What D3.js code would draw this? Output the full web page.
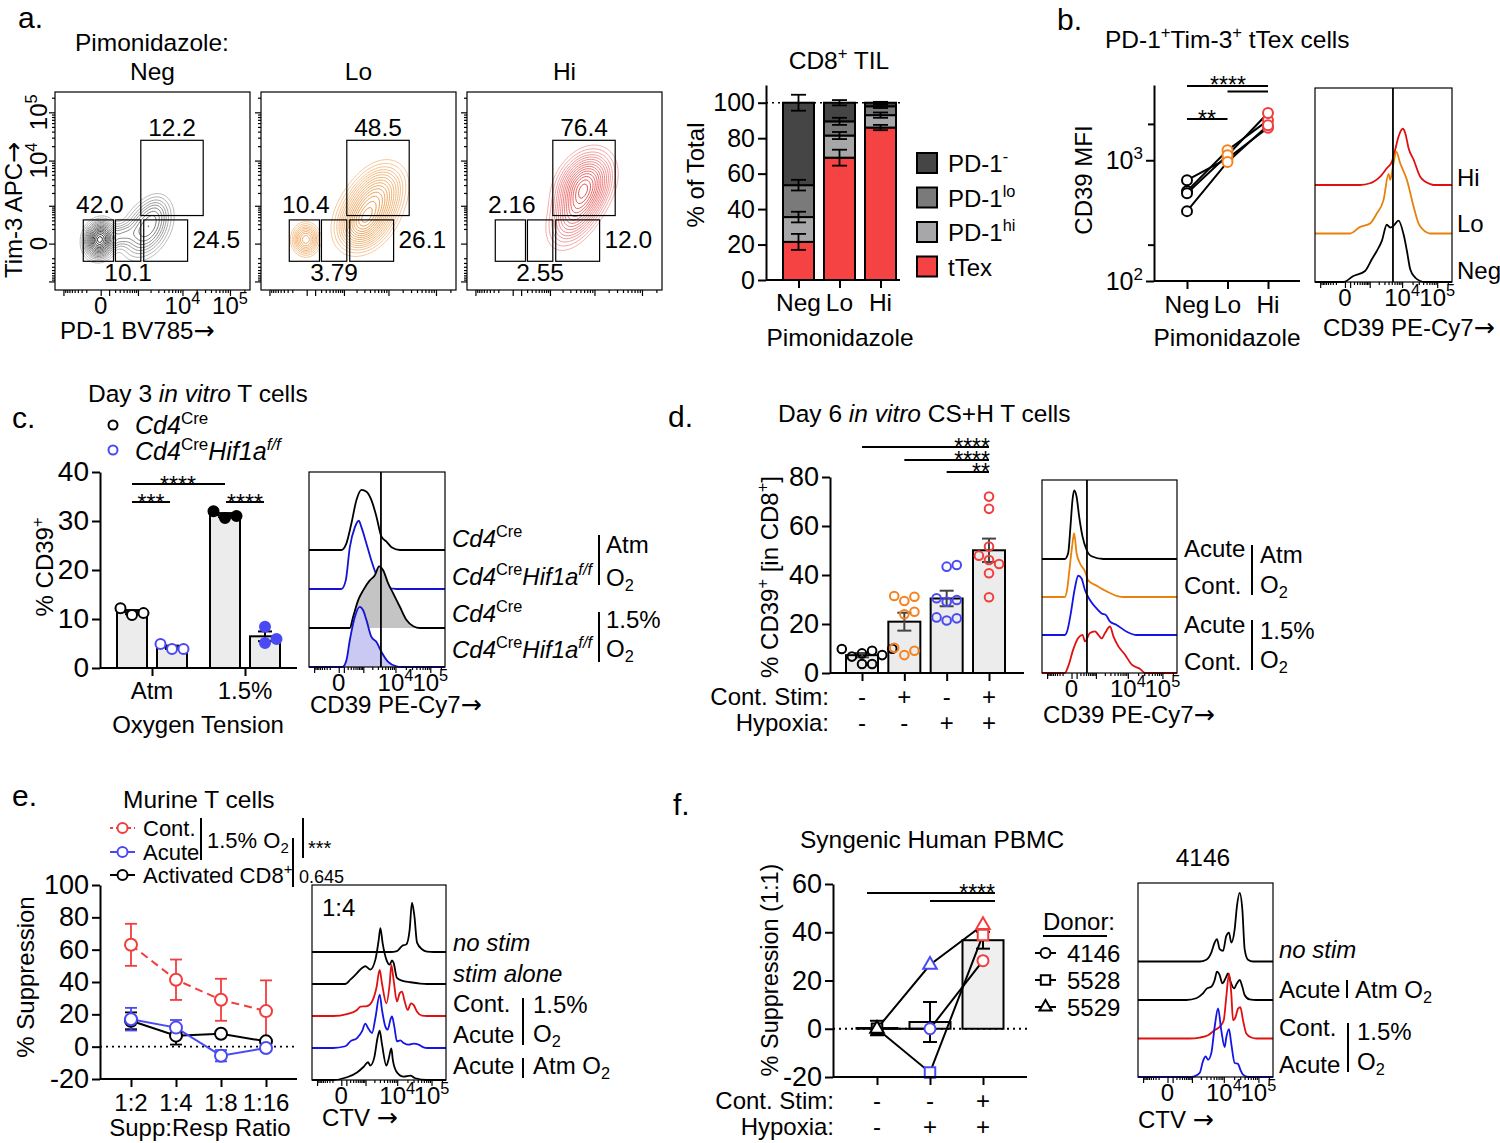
<!DOCTYPE html>
<html><head><meta charset="utf-8">
<script src="https://cdn.jsdelivr.net/npm/d3@7/dist/d3.min.js"></script>
<style>
html,body{margin:0;padding:0;background:#fff;}
svg{display:block;font-family:"Liberation Sans",Arial,Helvetica,sans-serif;}
</style></head><body>
<svg id="fig" width="1500" height="1143" viewBox="0 0 1500 1143"></svg>
<script>
// ======================= DATA =======================
// Panel a – flow contour plots (Tim-3 vs PD-1)
const pimoCats = ["Neg", "Lo", "Hi"];
const gatePctNeg = ["12.2", "42.0", "24.5", "10.1"];
const gatePctLo  = ["48.5", "10.4", "26.1", "3.79"];
const gatePctHi  = ["76.4", "2.16", "12.0", "2.55"];
// population density components: [PD-1 ch, Tim-3 ch, sdX, sdY, rho, weight]
const popNeg = [[23,25.5,3.4,4.0,0.1,1.0],[34,27.5,4.5,3.2,0.3,0.13],[47,31,5.5,6.5,0.35,0.30],[51,38,3.5,4.5,0.2,0.08]];
const popLo  = [[23,25.5,3.0,3.4,0.0,0.5],[55,39,6.5,7.5,0.35,1.0],[52,33,5,5,0.2,0.4],[60,49,6,6.5,0.3,0.4]];
const popHi  = [[57,42,6,8,0.5,0.7],[60,53,6,7,0.3,1.0]];

// Panel a – stacked bars CD8+ TIL (% of total), stack order bottom→top
const tilSubsets = ["tTex", "PD-1hi", "PD-1lo", "PD-1-"];
const tilNeg = [21.5, 14.0, 18.0, 46.5];
const tilLo  = [69.0, 12.5, 8.0, 10.5];
const tilHi  = [86.0, 7.0, 5.0, 2.0];
const tilSemNeg = [4.5, 3.0, 3.0, 4.5];
const tilSemLo  = [4.5, 2.0, 2.0, 1.5];
const tilSemHi  = [1.5, 1.5, 1.0, 0.5];

// Panel b – CD39 MFI (paired mice)
const mfiNeg = [684, 555, 533, 379];
const mfiLo  = [1035, 1210, 1100, 968];
const mfiHi  = [1862, 2140, 2460, 1946];
// histogram traces [channel 0-100, height % of box]
const histB_Hi  = [[32.9,0],[40.2,0.9],[42.7,1.7],[47.6,4.3],[52.4,8.6],[56.1,12],[58.5,18.1],[61,25],[64.1,29],[65.9,26.7],[68.3,19],[72,13],[76.8,4.3],[84.1,0.5],[86.6,0]];
const histB_Lo  = [[25.6,0],[32.9,3.4],[40.2,5.2],[45.1,10.3],[50,17.2],[53.7,30.7],[54.9,27.6],[57.3,36.2],[59.3,42.2],[62.2,36.2],[67.1,27.6],[72,13.8],[75.6,5.2],[81.7,0.5],[84,0]];
const histB_Neg = [[20.7,0],[28,3.1],[36.6,5.7],[41.5,11.7],[45.1,16],[48.8,21.2],[52.4,29.5],[54.9,28.1],[57.3,29],[61,31.6],[64.6,24.7],[67.1,16],[69.5,6.6],[73.2,2.2],[76.8,0.5],[80,0]];

// Panel c – % CD39+ day 3
const oxyCats = ["Atm", "1.5%"];
const genotypes = ["Cd4Cre", "Cd4CreHif1aff"];
const cd39CreAtm = [10.8, 12.2, 11.2];
const cd39HifAtm = [3.9, 4.9, 3.9];
const cd39CreHyp = [30.6, 32.0, 31.0];
const cd39HifHyp = [5.1, 8.4, 5.9];
const histC_CreAtm = [[23.8,0],[27.5,3.4],[31.2,13.7],[34.9,25.6],[38.6,30.8],[42.3,29.9],[45.9,25.6],[49.6,17.1],[53.3,6.8],[57,4.3],[60.7,1.4],[66.8,0]];
const histC_HifAtm = [[23.8,0],[27,4.3],[30,21.4],[33.7,31.6],[36.6,35],[38.6,31.6],[42.3,23.1],[45.9,14.5],[50.9,5.1],[57,0.9],[64.4,0]];
const histC_CreHyp = [[30,0],[32.4,5.6],[36.1,14.2],[39.8,19.3],[44.7,24.4],[48.4,27],[51.6,31.6],[54.5,29.6],[58.2,22.9],[61.9,17.8],[66.8,10.9],[71.7,4.1],[76.7,0.9],[81.6,0]];
const histC_HifHyp = [[24.6,0],[27.5,3.4],[30,13.7],[33.7,25.6],[37.3,30.8],[39.8,29.1],[42.3,23.9],[45.9,15.4],[49.6,12.8],[53.3,7.7],[58.2,2.6],[64.4,0.3],[66.8,0]];

// Panel d – % CD39+ in CD8+ day 6
const contStimD = ["-", "+", "-", "+"];
const hypoxiaD  = ["-", "-", "+", "+"];
const cd39D1 = [7.3, 9.9, 8.0, 9.1, 9.8, 3.7, 3.7, 6.7];
const cd39D2 = [31.4, 29.4, 31.1, 25.0, 24.0, 10.3, 7.3, 9.1];
const cd39D3 = [44.1, 43.4, 30.5, 29.1, 29.8, 21.4, 22.7, 22.3];
const cd39D4 = [72.0, 67.0, 51.6, 46.1, 47.9, 44.5, 40.7, 30.9];
const histD_AcuteAtm = [[16.9,0],[19.4,3.1],[21.1,16.9],[22.6,30.7],[23.8,35.5],[25.6,32.4],[27.5,22.1],[30,11.7],[33,4.8],[36.7,1.4],[45.4,0]];
const histD_ContAtm  = [[16.9,0],[18.6,3.8],[20.6,15.9],[22.3,26.2],[23.8,33.1],[25.6,22.8],[28,17.6],[31.8,13.3],[34.2,8.6],[40.4,5.9],[47.9,2.9],[56.6,0.3],[60.3,0]];
const histD_AcuteHyp = [[16.9,0],[18.9,2.6],[21.1,10.3],[24.3,24.1],[26.8,30.7],[29.3,29.3],[31.8,23.3],[35.5,18.1],[40.4,13.8],[44.2,11.2],[47.4,10.3],[50.4,6.9],[55.3,5.2],[62.8,1.7],[70.2,0]];
const histD_ContHyp  = [[16.9,0],[19.4,3.4],[23.1,12.1],[26.8,18.1],[30,19.8],[31.8,16.4],[35.5,20.7],[39.2,21.6],[41.7,19.8],[44.2,17.9],[46.7,20.7],[50.4,24.1],[52.9,19],[56.6,13.8],[61.5,9.5],[66.5,4.3],[72.7,2.1],[76.4,0]];

// Panel e – murine suppression
const ratios = ["1:2", "1:4", "1:8", "1:16"];
const supCont   = [63.0, 41.4, 29.0, 22.0];
const supContE  = [13.0, 12.5, 13.0, 19.0];
const supAcute  = [17.0, 11.8, -5.6, -0.8];
const supAcuteE = [7.0, 4.7, 3.5, 1.0];
const supAct    = [16.0, 6.8, 8.0, 3.3];
const supActE   = [5.2, 5.5, 1.0, 1.0];
const histE_NoStim = [[58.5,0],[63.4,0.5],[67.2,3.1],[70.4,3.9],[72.9,11.6],[74.6,25.3],[76.4,18.5],[78.4,4.8],[82.1,1.4],[85.8,0.2],[90.8,0]];
const histE_Stim   = [[24.9,0],[28.6,2.2],[33.6,5.6],[37.3,8.2],[39.8,9.1],[43.5,7.4],[47.3,12.5],[49.8,22.7],[51,28.7],[52.7,21],[55.5,12.5],[58,9.9],[59.7,12.1],[60.9,10.8],[63.4,3.1],[67.2,1.7],[73.4,0.9],[80.8,0.2],[85.8,0]];
const histE_Cont   = [[15.7,0],[26.1,1],[33.6,3.1],[36.1,4.8],[41,5.1],[44.8,7.4],[48,14.2],[50.5,23.6],[52.2,16.8],[55.5,6.5],[58,16.8],[59.2,26.2],[60.9,18.5],[63.4,7.4],[65.4,11.6],[67.2,12.5],[68.9,8.2],[71.4,3.1],[73.9,6.5],[75.9,5.6],[78.4,2.2],[82.1,0.2],[85.8,0]];
const histE_Acute  = [[15.7,0],[24.9,0.9],[28.6,3.4],[33.6,5.1],[37.3,8.5],[39.8,12.5],[41.8,10.3],[44.8,7.7],[47.3,15.4],[50.5,27.4],[52.2,19.7],[54.7,11.1],[56.5,9.4],[58.5,14.5],[59.7,16.2],[61.4,11.1],[63.4,3.4],[65.9,3.9],[68.4,2.6],[72.1,1.7],[75.9,2.2],[79.6,1.7],[83.3,0.3],[85.8,0]];
const histE_AcuteAtm = [[15.7,0],[26.1,1.4],[33.6,3.9],[38.6,6.8],[41.8,9.1],[43.5,7.4],[46.5,11.6],[49,21.9],[50.5,25.3],[52.2,18.5],[55.5,7.4],[57.2,10.8],[59.2,16.2],[60.4,9.9],[63.4,3.9],[68.4,1.7],[73.4,2.2],[77.1,0.9],[85.8,0]];

// Panel f – human PBMC suppression (1:1)
const contStimF = ["-", "-", "+"];
const hypoxiaF  = ["-", "+", "+"];
const donors = ["4146", "5528", "5529"];
const sup4146 = [0.0, 0.0, 28.2];
const sup5528 = [0.0, -18.1, 38.9];
const sup5529 = [0.0, 26.5, 43.0];
const supMeanF = [0.3, 2.8, 36.7];
const supSemF  = [3.0, 8.3, 3.5];
const histF_NoStim = [[45.7,0],[50.6,0.9],[54.3,4.6],[56.8,9.8],[58.5,11.5],[60.5,6.4],[63,5.5],[65.4,13.2],[67.4,14.9],[69.1,9.8],[71.6,16.6],[73.3,28.6],[75.3,35.4],[77.3,26.7],[79,6.4],[81.5,0.9],[85.2,0]];
const histF_AcuteAtm = [[35.8,0],[43.2,0.9],[47.7,3.1],[51.1,6],[54.3,6.8],[56.8,10.3],[58.5,14.6],[60.5,12.8],[62.5,8.6],[64.9,11.3],[66.7,13.7],[68.6,9.4],[71.1,6],[73.3,8.6],[75.3,10.3],[77.3,6.8],[79,2.6],[82.7,0.3],[87.7,0]];
const histF_Cont = [[38.3,0],[45.7,0.5],[51.9,1.7],[56.8,4.3],[60.5,6],[63.5,9.4],[65.4,21.4],[67.4,33.4],[69.1,23.1],[70.4,9.4],[72.3,11.1],[74.1,15.4],[75.8,16.1],[77.8,9.4],[80.2,2.6],[84,0.5],[87.7,0]];
const histF_Acute = [[39.5,0],[45.7,2.1],[48.1,8.1],[50.1,10.6],[51.9,8.9],[54.3,12.3],[56.8,25.9],[59.3,35.3],[61.7,24],[64.2,15.4],[65.4,20.5],[67.4,24.7],[69.1,17.1],[71.6,7.2],[74.1,6.8],[75.8,3.8],[77.8,1.2],[81.5,0]];

// ======================= HELPERS =======================
const svg = d3.select("#fig");
const RED = "#f23d3d", BLUE = "#4a4af5", ORANGE = "#f5821f";
const TITLE = 24.5;

function rt(g, x, y, parts, o = {}) {
  const size = o.size || 22;
  const t = g.append("text").attr("x", x).attr("y", y)
    .attr("font-size", size).attr("text-anchor", o.anchor || "start").attr("fill", o.fill || "#000");
  if (o.rotate) t.attr("transform", `rotate(${o.rotate},${x},${y})`);
  if (o.italic) t.attr("font-style", "italic");
  if (typeof parts === "string") parts = [[parts, ""]];
  let cur = 0;
  parts.forEach(([s, m = ""]) => {
    const sp = t.append("tspan").text(s);
    let off = 0, fs = size;
    if (m.includes("^")) { off = -0.4 * size; fs = 0.68 * size; }
    if (m.includes("_")) { off = 0.22 * size; fs = 0.68 * size; }
    sp.attr("font-size", fs);
    if (off - cur !== 0) sp.attr("dy", off - cur);
    cur = off;
    if (m.includes("i")) sp.attr("font-style", "italic");
    if (m.includes("a")) sp.attr("font-family", "'DejaVu Sans', sans-serif").attr("font-size", size * 1.05);
  });
  return t;
}
function ln(g, x1, y1, x2, y2, w = 2, c = "#000", dash = null) {
  const l = g.append("line").attr("x1", x1).attr("y1", y1).attr("x2", x2).attr("y2", y2)
    .attr("stroke", c).attr("stroke-width", w);
  if (dash) l.attr("stroke-dasharray", dash);
  return l;
}
function plabel(x, y, s) { rt(svg, x, y, s, { size: 30 }); }
function gpYAxis(g, scale, x, ticks, size, fmt) {
  const ax = d3.axisLeft(scale).tickValues(ticks).tickSize(8).tickSizeOuter(0).tickPadding(3)
    .tickFormat(fmt || (d => d));
  const a = g.append("g").attr("transform", `translate(${x},0)`).call(ax);
  a.select(".domain").attr("stroke-width", 2);
  a.selectAll(".tick line").attr("stroke-width", 2);
  a.selectAll(".tick text").attr("font-size", size).attr("font-family", "inherit").attr("fill", "#000");
  return a;
}
function gpXAxis(g, pscale, y, x1, x2) {
  ln(g, x1, y, x2, y, 2);
  const ax = d3.axisBottom(pscale).tickSize(8).tickSizeOuter(0).tickFormat("");
  const a = g.append("g").attr("transform", `translate(0,${y})`).call(ax);
  a.select(".domain").remove();
  a.selectAll(".tick line").attr("stroke-width", 2);
}
function stars(g, xText, lineY, s, anchor = "middle") {
  rt(g, xText, lineY + 9, s, { size: 23, anchor });
}
// several significance labels stacked in one text element: rows = [[x, lineY, str]]
function starStack(g, rows, anchor = "end") {
  const t = g.append("text").attr("font-size", 23).attr("text-anchor", anchor);
  rows.forEach(([x, ly, s]) => t.append("tspan").attr("x", x).attr("y", ly + 9).text(s));
}
function errBar(g, x, y1, y2, cap, color = "#000", w = 2) {
  ln(g, x, y1, x, y2, w, color);
  ln(g, x - cap / 2, y1, x + cap / 2, y1, w, color);
  ln(g, x - cap / 2, y2, x + cap / 2, y2, w, color);
}
function sem(a) { return d3.deviation(a) / Math.sqrt(a.length); }
function swarm(values, yScale, cx, r) {
  const s = 2 * r + 1.5, placed = [], out = new Array(values.length);
  const order = values.map((v, i) => i).sort((a, b) => values[a] - values[b]);
  for (const i of order) {
    const y = yScale(values[i]);
    for (let k = 0; k < 30; k++) {
      const off = k === 0 ? 0 : (k % 2 ? 1 : -1) * Math.ceil(k / 2) * s;
      if (!placed.some(p => Math.hypot(p.x - (cx + off), p.y - y) < s - 0.5)) {
        out[i] = { x: cx + off, y }; placed.push(out[i]); break;
      }
    }
  }
  return out;
}
function minorFlowTicks() {
  const minor = [];
  [100, 1000, 10000, 100000].forEach(d => { for (let m = 2; m < 10; m++) minor.push(d * m); });
  [100, 1000].forEach(d => { for (let m = 2; m < 10; m++) minor.push(-d * m); });
  return minor;
}
function flowTicksBottom(g, scale, y, minorLen = 3, majorLen = 6) {
  const [d0, d1] = scale.domain();
  const ax1 = d3.axisBottom(scale).tickValues(minorFlowTicks().filter(v => v > d0 && v < d1)).tickSize(minorLen).tickSizeOuter(0).tickFormat("");
  const ax2 = d3.axisBottom(scale).tickValues([-1000, 0, 100, 1000, 10000, 100000]).tickSize(majorLen).tickSizeOuter(0).tickFormat("");
  [ax1, ax2].forEach(ax => {
    const a = g.append("g").attr("transform", `translate(0,${y})`).call(ax);
    a.select(".domain").remove();
    a.selectAll(".tick line").attr("stroke-width", 1.2);
  });
}
function flowTicksLeft(g, scale, x) {
  const [d0, d1] = scale.domain();
  const ax1 = d3.axisLeft(scale).tickValues(minorFlowTicks().filter(v => v > d0 && v < d1)).tickSize(3).tickSizeOuter(0).tickFormat("");
  const ax2 = d3.axisLeft(scale).tickValues([-1000, 0, 1000, 10000, 100000]).tickSize(6).tickSizeOuter(0).tickFormat("");
  [ax1, ax2].forEach(ax => {
    const a = g.append("g").attr("transform", `translate(${x},0)`).call(ax);
    a.select(".domain").remove();
    a.selectAll(".tick line").attr("stroke-width", 1.2);
  });
}
function flowHist(o) {
  const g = svg.append("g");
  const { x0, y0, w, h, step } = o;
  const xc = d3.scaleLinear().domain([0, 100]).range([x0, x0 + w]);
  const hc = d3.scaleLinear().domain([0, 100]).range([0, h]);
  const n = o.traces.length;
  o.traces.forEach((t, i) => {
    const base = y0 + h - (n - 1 - i) * step;
    const pts = [[0, 0], ...t.pts, [100, 0]];
    if (t.fill) g.append("path").attr("fill", t.fill)
      .attr("d", d3.area().x(d => xc(d[0])).y0(base).y1(d => base - hc(d[1])).curve(d3.curveMonotoneX)(pts));
    g.append("path").attr("fill", "none").attr("stroke", t.color).attr("stroke-width", 1.8)
      .attr("d", d3.line().x(d => xc(d[0])).y(d => base - hc(d[1])).curve(d3.curveMonotoneX)(pts));
  });
  g.append("rect").attr("x", x0).attr("y", y0).attr("width", w).attr("height", h)
    .attr("fill", "none").attr("stroke", "#000").attr("stroke-width", 1.2);
  if (o.vline != null) ln(g, xc(o.vline), y0, xc(o.vline), y0 + h, 1.8);
  const xs = d3.scaleSymlog().constant(250).domain([-1500, 262144]).range([x0, x0 + w]);
  flowTicksBottom(g, xs, y0 + h, 3, 6);
  const ly = y0 + h + 24;
  rt(g, xs(0), ly, "0", { size: 24, anchor: "middle" });
  rt(g, xs(10000), ly, [["10"], ["4", "^"]], { size: 24, anchor: "middle" });
  rt(g, xs(100000), ly, [["10"], ["5", "^"]], { size: 24, anchor: "middle" });
  rt(g, o.titleX != null ? o.titleX : x0 + 1, o.titleY, o.title, { size: 24 });
  return g;
}

// ======================= PANEL A: flow =======================
const gA = svg.append("g");
plabel(18, 28, "a.");
rt(gA, 75, 51, "Pimonidazole:", { size: TITLE });
const FB = { y0: 92, h: 198, w: 195, xs: [55, 261, 467] };
const gateRects = [[44, 76, 37.6, 75.6], [14.5, 30, 14.5, 35.4], [45.5, 68, 14.5, 35.4], [31, 44, 14.5, 35.4]];
const flowLevels = [0.012, 0.025, 0.045, 0.07, 0.1, 0.14, 0.19, 0.25, 0.32, 0.4, 0.49, 0.59, 0.7, 0.82, 0.93];
const flowPops = [popNeg, popLo, popHi];
const flowPct = [gatePctNeg, gatePctLo, gatePctHi];
const flowCols = [["#b0b0b0", "#111111"], ["#f5c08a", "#e68a2e"], ["#f3a0a0", "#e23a3a"]];
pimoCats.forEach((cat, k) => {
  const x0 = FB.xs[k], y0 = FB.y0, W = FB.w, H = FB.h;
  const g = gA.append("g");
  rt(g, x0 + W / 2, 80, cat, { size: TITLE, anchor: "middle" });
  const N = 120, vals = new Float64Array(N * N);
  for (let j = 0; j < N; j++) for (let i = 0; i < N; i++) {
    const cx = (i + 0.5) * 100 / N, cy = 100 - (j + 0.5) * 100 / N;
    let s = 0;
    for (const [mx, my, sx, sy, r, w] of flowPops[k]) {
      const dx = (cx - mx) / sx, dy = (cy - my) / sy;
      s += w * Math.exp(-(dx * dx - 2 * r * dx * dy + dy * dy) / (2 * (1 - r * r)));
    }
    vals[j * N + i] = s;
  }
  const mx = d3.max(vals);
  const th = flowLevels.map(f => f * mx);
  const cs = d3.contours().size([N, N]).thresholds(th)(vals);
  const col = d3.scaleLinear().domain([0, th.length - 1]).range(flowCols[k]).interpolate(d3.interpolateRgb);
  const proj = d3.geoTransform({ point(x, y) { this.stream.point(x0 + x * W / N, y0 + y * H / N); } });
  const path = d3.geoPath(proj);
  g.selectAll("path.ct").data(cs).join("path").attr("class", "ct").attr("d", path)
    .attr("fill", "none").attr("stroke", (d, i) => col(i)).attr("stroke-width", 0.9);
  const cxs = d3.scaleLinear().domain([0, 100]).range([x0, x0 + W]);
  const cys = d3.scaleLinear().domain([0, 100]).range([y0 + H, y0]);
  gateRects.forEach(([a, b, c, d]) => g.append("rect").attr("x", cxs(a)).attr("y", cys(d))
    .attr("width", cxs(b) - cxs(a)).attr("height", cys(c) - cys(d)).attr("fill", "none").attr("stroke", "#000").attr("stroke-width", 1.2));
  const p = flowPct[k];
  rt(g, cxs(60), cys(77.8), p[0], { size: 24.5, anchor: "middle" });
  rt(g, cxs(23), cys(38.9), p[1], { size: 24.5, anchor: "middle" });
  rt(g, cxs(70.5), cys(21.2), p[2], { size: 24.5 });
  rt(g, cxs(37.5), cys(4.5), p[3], { size: 24.5, anchor: "middle" });
  g.append("rect").attr("x", x0).attr("y", y0).attr("width", W).attr("height", H)
    .attr("fill", "none").attr("stroke", "#000").attr("stroke-width", 1.2);
  const sx = d3.scaleSymlog().constant(200).domain([-1600, 262144]).range([x0, x0 + W]);
  const sy = d3.scaleSymlog().constant(200).domain([-1600, 262144]).range([y0 + H, y0]);
  flowTicksBottom(g, sx, y0 + H, 3, 6);
  flowTicksLeft(g, sy, x0);
  if (k === 0) {
    rt(g, sx(0), 314, "0", { size: 24, anchor: "middle" });
    rt(g, sx(10000), 314, [["10"], ["4", "^"]], { size: 24, anchor: "middle" });
    rt(g, sx(100000), 314, [["10"], ["5", "^"]], { size: 24, anchor: "middle" });
    rt(g, 47, sy(0), "0", { size: 24, anchor: "middle", rotate: -90 });
    rt(g, 47, sy(10000), [["10"], ["4", "^"]], { size: 24, anchor: "middle", rotate: -90 });
    rt(g, 47, sy(100000), [["10"], ["5", "^"]], { size: 24, anchor: "middle", rotate: -90 });
    rt(g, 60, 339, [["PD-1 BV785"], ["→", "a"]], { size: 24 });
    rt(g, 22, 210, [["Tim-3 APC"], ["→", "a"]], { size: 24, anchor: "middle", rotate: -90 });
  }
});

// ======================= PANEL A: stacked bars =======================
{
  const g = svg.append("g");
  const y = d3.scaleLinear().domain([0, 110]).range([280, 85]);
  const x = d3.scalePoint().domain(pimoCats).range([798.5, 880.5]);
  const rows = [tilNeg, tilLo, tilHi].map((arr, i) => {
    const r = { cat: pimoCats[i] }; tilSubsets.forEach((s, j) => r[s] = arr[j]); return r;
  });
  const sems = [tilSemNeg, tilSemLo, tilSemHi];
  const st = d3.stack().keys(tilSubsets)(rows);
  const fills = { "tTex": "#f54242", "PD-1hi": "#a7a7a9", "PD-1lo": "#7a7a7a", "PD-1-": "#454545" };
  ln(g, 766, y(100), 902, y(100), 1.6, "#000", "2,4");
  st.forEach((layer, j) => layer.forEach((d, i) => {
    g.append("rect").attr("x", x(pimoCats[i]) - 15.5).attr("width", 31)
      .attr("y", y(d[1])).attr("height", y(d[0]) - y(d[1]))
      .attr("fill", fills[layer.key]).attr("stroke", "#000").attr("stroke-width", 2);
  }));
  st.forEach((layer, j) => layer.forEach((d, i) => {
    const s = sems[i][j];
    errBar(g, x(pimoCats[i]), y(d[1] - s), y(d[1] + s), 15, "#000", 1.8);
  }));
  gpYAxis(g, y, 766, [0, 20, 40, 60, 80, 100], 25);
  gpXAxis(g, x, 280, 766, 900);
  pimoCats.forEach(c => rt(g, x(c), 311, c, { size: 24.5, anchor: "middle" }));
  rt(g, 840, 346, "Pimonidazole", { size: 24.5, anchor: "middle" });
  rt(g, 704, 175, "% of Total", { size: 24, anchor: "middle", rotate: -90 });
  rt(g, 839, 69, [["CD8"], ["+", "^"], [" TIL"]], { size: TITLE, anchor: "middle" });
  const legend = [["PD-1-", [["PD-1"], ["-", "^"]]], ["PD-1lo", [["PD-1"], ["lo", "^"]]], ["PD-1hi", [["PD-1"], ["hi", "^"]]], ["tTex", "tTex"]];
  legend.forEach(([k, lab], i) => {
    const cy = 163 + i * 34.5;
    g.append("rect").attr("x", 917).attr("y", cy - 10).attr("width", 20).attr("height", 20)
      .attr("fill", fills[k]).attr("stroke", "#000").attr("stroke-width", 2);
    rt(g, 948, cy + 9, lab, { size: 24 });
  });
}

// ======================= PANEL B =======================
{
  const g = svg.append("g");
  plabel(1057, 30, "b.");
  rt(g, 1105, 48, [["PD-1"], ["+", "^"], ["Tim-3"], ["+", "^"], [" tTex cells"]], { size: TITLE });
  const y = d3.scaleLog().domain([100, 4200]).range([281, 85]);
  const x = d3.scalePoint().domain(pimoCats).range([1187, 1268]);
  gpYAxis(g, y, 1154, [100, 1000], 24, () => "");
  const ax = d3.axisLeft(y).tickValues([200, 2000]).tickSize(6).tickFormat("");
  const a = g.append("g").attr("transform", "translate(1154,0)").call(ax);
  a.select(".domain").remove(); a.selectAll(".tick line").attr("stroke-width", 2);
  rt(g, 1143, y(1000) + 9, [["10"], ["3", "^"]], { size: 25, anchor: "end" });
  rt(g, 1143, y(100) + 9, [["10"], ["2", "^"]], { size: 25, anchor: "end" });
  gpXAxis(g, x, 281, 1154, 1300);
  pimoCats.forEach(c => rt(g, x(c), 313, c, { size: 24.5, anchor: "middle" }));
  rt(g, 1227, 346, "Pimonidazole", { size: 24.5, anchor: "middle" });
  rt(g, 1092, 180, "CD39 MFI", { size: 24, anchor: "middle", rotate: -90 });
  const groups = [mfiNeg, mfiLo, mfiHi];
  const cols = ["#000", ORANGE, RED];
  mfiNeg.forEach((v, i) => {
    g.append("path").attr("fill", "none").attr("stroke", "#000").attr("stroke-width", 2)
      .attr("d", d3.line()(groups.map((gr, k) => [x(pimoCats[k]), y(gr[i])])));
  });
  groups.forEach((gr, k) => gr.forEach(v => g.append("circle").attr("cx", x(pimoCats[k])).attr("cy", y(v)).attr("r", 5)
    .attr("fill", "#fff").attr("stroke", cols[k]).attr("stroke-width", 2)));
  ln(g, x("Neg"), 86, x("Hi"), 86, 2); ln(g, x("Lo"), 91.5, x("Hi"), 91.5, 2);
  stars(g, 1228, 84, "****");
  ln(g, x("Neg"), 119, x("Lo"), 119, 2);
  stars(g, 1207, 118, "**");
  flowHist({
    x0: 1315, y0: 88, w: 137, h: 194, step: 48.5, vline: 56.9,
    traces: [{ pts: histB_Hi, color: "#e01010" }, { pts: histB_Lo, color: "#e8800c" }, { pts: histB_Neg, color: "#000" }],
    title: [["CD39 PE-Cy7"], ["→", "a"]], titleX: 1323, titleY: 336
  });
  rt(g, 1457, 186, "Hi", { size: 24 });
  rt(g, 1457, 232, "Lo", { size: 24 });
  rt(g, 1457, 279, "Neg", { size: 24 });
}

// ======================= PANEL C =======================
{
  const g = svg.append("g");
  plabel(12, 428, "c.");
  rt(g, 88, 402, [["Day 3 "], ["in vitro", "i"], [" T cells"]], { size: TITLE });
  g.append("circle").attr("cx", 113).attr("cy", 425).attr("r", 4.5).attr("fill", "none").attr("stroke", "#000").attr("stroke-width", 2);
  g.append("circle").attr("cx", 113).attr("cy", 450).attr("r", 4.5).attr("fill", "none").attr("stroke", BLUE).attr("stroke-width", 2);
  rt(g, 135, 434, [["Cd4", "i"], ["Cre", "^"]], { size: 25 });
  rt(g, 135, 460, [["Cd4", "i"], ["Cre", "^"], ["Hif1a", "i"], ["f/f", "i^"]], { size: 25 });
  const y = d3.scaleLinear().domain([0, 40]).range([668, 472]);
  const x = d3.scalePoint().domain(oxyCats).range([152, 245]);
  const sub = d3.scaleBand().domain(genotypes).range([-35, 35]).paddingInner(0.25);
  const sets = [[cd39CreAtm, cd39HifAtm], [cd39CreHyp, cd39HifHyp]];
  sets.forEach((pair, i) => pair.forEach((vals, j) => {
    const cx = x(oxyCats[i]) + sub(genotypes[j]) + sub.bandwidth() / 2;
    const m = d3.mean(vals), s = sem(vals);
    g.append("rect").attr("x", cx - sub.bandwidth() / 2).attr("width", sub.bandwidth())
      .attr("y", y(m)).attr("height", y(0) - y(m)).attr("fill", "#ececec").attr("stroke", "#000").attr("stroke-width", 2);
    errBar(g, cx, y(m - s), y(m + s), 14);
    const col = j === 0 ? "#000" : BLUE;
    const filled = i === 1;
    swarm(vals, y, cx, 5).forEach(p => g.append("circle").attr("cx", p.x).attr("cy", p.y).attr("r", 5)
      .attr("fill", filled ? col : "#fff").attr("stroke", col).attr("stroke-width", 2));
  }));
  gpYAxis(g, y, 100, [0, 10, 20, 30, 40], 28);
  gpXAxis(g, x, 668, 100, 297);
  oxyCats.forEach(c => rt(g, x(c), 699, c, { size: 24, anchor: "middle" }));
  rt(g, 198, 733, "Oxygen Tension", { size: 24, anchor: "middle" });
  rt(g, 53, 567, [["% CD39"], ["+", "^"]], { size: 24, anchor: "middle", rotate: -90 });
  ln(g, 132, 484, 225, 484, 2);
  ln(g, 132, 502, 170, 502, 2);
  ln(g, 226, 502, 264, 502, 2);
  starStack(g, [[178, 484, "****"], [151, 502, "***"], [245, 502, "****"]], "middle");
  flowHist({
    x0: 309, y0: 472, w: 136, h: 195, step: 39, vline: 52.9,
    traces: [{ pts: histC_CreAtm, color: "#000" }, { pts: histC_HifAtm, color: "#1414d2" },
             { pts: histC_CreHyp, color: "#000", fill: "#c4c4c4" }, { pts: histC_HifHyp, color: "#1414d2", fill: "#c9c9f3" }],
    title: [["CD39 PE-Cy7"], ["→", "a"]], titleX: 310, titleY: 713
  });
  const L = [[547, false], [585, true], [622, false], [658, true]];
  L.forEach(([yy, hif]) => rt(g, 452, yy, hif ? [["Cd4", "i"], ["Cre", "^"], ["Hif1a", "i"], ["f/f", "i^"]] : [["Cd4", "i"], ["Cre", "^"]], { size: 24 }));
  ln(g, 599, 535, 599, 585, 2); ln(g, 599, 612, 599, 662, 2);
  rt(g, 606, 553, "Atm", { size: 24 }); rt(g, 606, 586, [["O"], ["2", "_"]], { size: 24 });
  rt(g, 606, 628, "1.5%", { size: 24 }); rt(g, 606, 657, [["O"], ["2", "_"]], { size: 24 });
}

// ======================= PANEL D =======================
{
  const g = svg.append("g");
  plabel(668, 427, "d.");
  rt(g, 778, 422, [["Day 6 "], ["in vitro", "i"], [" CS+H T cells"]], { size: TITLE });
  const y = d3.scaleLinear().domain([0, 80]).range([673, 477]);
  const idx = [0, 1, 2, 3];
  const x = d3.scalePoint().domain(idx).range([862, 989]);
  const sets = [cd39D1, cd39D2, cd39D3, cd39D4];
  const cols = ["#000", ORANGE, BLUE, RED];
  sets.forEach((vals, i) => {
    const cx = x(i), m = d3.mean(vals);
    g.append("rect").attr("x", cx - 16).attr("width", 32).attr("y", y(m)).attr("height", y(0) - y(m))
      .attr("fill", "#ececec").attr("stroke", "#000").attr("stroke-width", 2);
  });
  sets.forEach((vals, i) => {
    const cx = x(i), m = d3.mean(vals), s = sem(vals);
    errBar(g, cx, y(m - s), y(m + s), 14, "#444");
    swarm(vals, y, cx, 4.3).forEach(p => g.append("circle").attr("cx", p.x).attr("cy", p.y).attr("r", 4.3)
      .attr("fill", "none").attr("stroke", cols[i]).attr("stroke-width", 2));
  });
  gpYAxis(g, y, 830, [0, 20, 40, 60, 80], 27);
  gpXAxis(g, x, 673, 830, 1024);
  rt(g, 829, 705, "Cont. Stim:", { size: 24, anchor: "end" });
  rt(g, 829, 731, "Hypoxia:", { size: 24, anchor: "end" });
  idx.forEach(i => { rt(g, x(i), 705, contStimD[i], { size: 24, anchor: "middle" }); rt(g, x(i), 731, hypoxiaD[i], { size: 24, anchor: "middle" }); });
  rt(g, 778, 577, [["% CD39"], ["+", "^"], [" [in CD8"], ["+", "^"], ["]"]], { size: 24, anchor: "middle", rotate: -90 });
  ln(g, x(0), 447, x(3), 447, 2);
  ln(g, x(1), 460, x(3), 460, 2);
  ln(g, x(2), 472, x(3), 472, 2);
  starStack(g, [[990, 446, "****"], [990, 459, "****"], [990, 471, "**"]], "end");
  flowHist({
    x0: 1042, y0: 480, w: 135, h: 193, step: 38, vline: 33.3,
    traces: [{ pts: histD_AcuteAtm, color: "#000" }, { pts: histD_ContAtm, color: "#e8820c" },
             { pts: histD_AcuteHyp, color: "#1414e6" }, { pts: histD_ContHyp, color: "#e01010" }],
    title: [["CD39 PE-Cy7"], ["→", "a"]], titleX: 1043, titleY: 723
  });
  rt(g, 1184, 557, "Acute", { size: 24 }); rt(g, 1184, 594, "Cont.", { size: 24 });
  rt(g, 1184, 633, "Acute", { size: 24 }); rt(g, 1184, 670, "Cont.", { size: 24 });
  ln(g, 1252, 545, 1252, 595, 2); ln(g, 1252, 620, 1252, 670, 2);
  rt(g, 1260, 563, "Atm", { size: 24 }); rt(g, 1260, 593, [["O"], ["2", "_"]], { size: 24 });
  rt(g, 1260, 639, "1.5%", { size: 24 }); rt(g, 1260, 668, [["O"], ["2", "_"]], { size: 24 });
}

// ======================= PANEL E =======================
{
  const g = svg.append("g");
  plabel(12, 806, "e.");
  rt(g, 123, 808, "Murine T cells", { size: TITLE });
  const leg = [[RED, "3,3", "Cont.", 828], [BLUE, null, "Acute", 852], ["#000", null, [["Activated CD8"], ["+", "^"]], 875]];
  leg.forEach(([c, dash, lab, yy]) => {
    ln(g, 110, yy, 135, yy, 2, c, dash);
    g.append("circle").attr("cx", 122.5).attr("cy", yy).attr("r", 5).attr("fill", "#fff").attr("stroke", c).attr("stroke-width", 2);
    rt(g, 143, yy + 8, lab, { size: 22 });
  });
  ln(g, 201, 818, 201, 860, 2);
  rt(g, 207, 848, [["1.5% O"], ["2", "_"]], { size: 22 });
  ln(g, 293, 838, 293, 887, 2);
  ln(g, 303, 818, 303, 858, 2);
  rt(g, 308, 855, "***", { size: 20 });
  rt(g, 299, 883, "0.645", { size: 18 });
  const y = d3.scaleLinear().domain([-20, 100]).range([1079, 885]);
  const x = d3.scalePoint().domain(ratios).range([131, 266]);
  ln(g, 100, y(0), 297, y(0), 1.8, "#000", "2,4");
  const series = [[supAct, supActE, "#000", null], [supAcute, supAcuteE, BLUE, null], [supCont, supContE, RED, "8,5"]];
  series.forEach(([v, e, c, dash]) => {
    v.forEach((d, i) => errBar(g, x(ratios[i]), y(d - e[i]), y(d + e[i]), 12, c, 1.8));
    const p = g.append("path").attr("fill", "none").attr("stroke", c).attr("stroke-width", 2)
      .attr("d", d3.line()(v.map((d, i) => [x(ratios[i]), y(d)])));
    if (dash) p.attr("stroke-dasharray", dash);
  });
  series.forEach(([v, e, c]) => v.forEach((d, i) => g.append("circle").attr("cx", x(ratios[i])).attr("cy", y(d)).attr("r", 6)
    .attr("fill", "#fff").attr("stroke", c).attr("stroke-width", 2)));
  gpYAxis(g, y, 100, [-20, 0, 20, 40, 60, 80, 100], 27);
  gpXAxis(g, x, 1079, 100, 297);
  ratios.forEach(r => rt(g, x(r), 1111, r, { size: 24, anchor: "middle" }));
  rt(g, 200, 1136, "Supp:Resp Ratio", { size: 24, anchor: "middle" });
  rt(g, 34, 977, "% Suppression", { size: 24, anchor: "middle", rotate: -90 });
  flowHist({
    x0: 312, y0: 885, w: 134, h: 195, step: 32,
    traces: [{ pts: histE_NoStim, color: "#000" }, { pts: histE_Stim, color: "#000" }, { pts: histE_Cont, color: "#e01010" },
             { pts: histE_Acute, color: "#1414e6" }, { pts: histE_AcuteAtm, color: "#000" }],
    title: [["CTV "], ["→", "a"]], titleX: 322, titleY: 1126
  });
  rt(g, 322, 916, "1:4", { size: 24 });
  rt(g, 453, 951, "no stim", { size: 24, italic: true });
  rt(g, 453, 982, "stim alone", { size: 24, italic: true });
  rt(g, 453, 1012, "Cont.", { size: 24 });
  rt(g, 453, 1043, "Acute", { size: 24 });
  rt(g, 453, 1074, "Acute", { size: 24 });
  ln(g, 523, 998, 523, 1045, 2); ln(g, 523, 1058, 523, 1078, 2);
  rt(g, 533, 1013, "1.5%", { size: 24 }); rt(g, 533, 1042, [["O"], ["2", "_"]], { size: 24 });
  rt(g, 533, 1074, [["Atm O"], ["2", "_"]], { size: 24 });
}

// ======================= PANEL F =======================
{
  const g = svg.append("g");
  plabel(673, 815, "f.");
  rt(g, 800, 848, "Syngenic Human PBMC", { size: TITLE });
  const y = d3.scaleLinear().domain([-20, 60]).range([1077, 884]);
  const idx = [0, 1, 2];
  const x = d3.scalePoint().domain(idx).range([877, 983]);
  ln(g, 833, y(0), 1027, y(0), 1.8, "#000", "2,4");
  supMeanF.forEach((m, i) => {
    g.append("rect").attr("x", x(i) - 20.5).attr("width", 41).attr("y", Math.min(y(m), y(0))).attr("height", Math.abs(y(0) - y(m)))
      .attr("fill", "#efefef").attr("stroke", "#000").attr("stroke-width", 2);
  });
  const dv = [sup4146, sup5528, sup5529];
  dv.forEach(v => g.append("path").attr("fill", "none").attr("stroke", "#000").attr("stroke-width", 2)
    .attr("d", d3.line()(v.map((d, i) => [x(i), y(d)]))));
  supMeanF.forEach((m, i) => errBar(g, x(i), y(m - supSemF[i]), y(m + supSemF[i]), 14));
  const shapes = [d3.symbolCircle, d3.symbolSquare, d3.symbolTriangle];
  const sizes = [95, 110, 80];
  const colCols = ["#000", BLUE, RED];
  dv.forEach((v, k) => v.forEach((d, i) => g.append("path").attr("d", d3.symbol(shapes[k], sizes[k])())
    .attr("transform", `translate(${x(i)},${y(d)})`).attr("fill", "#fff").attr("stroke", colCols[i]).attr("stroke-width", 2)));
  gpYAxis(g, y, 833, [-20, 0, 20, 40, 60], 27);
  gpXAxis(g, x, 1077, 833, 1027);
  rt(g, 834, 1109, "Cont. Stim:", { size: 24, anchor: "end" });
  rt(g, 834, 1135, "Hypoxia:", { size: 24, anchor: "end" });
  idx.forEach(i => { rt(g, x(i), 1109, contStimF[i], { size: 24, anchor: "middle" }); rt(g, x(i), 1135, hypoxiaF[i], { size: 24, anchor: "middle" }); });
  rt(g, 778, 970, "% Suppression (1:1)", { size: 23.5, anchor: "middle", rotate: -90 });
  ln(g, 867, 893, 995, 893, 2); ln(g, 930, 901, 995, 901, 2);
  stars(g, 995, 892, "****", "end");
  rt(g, 1043, 930, "Donor:", { size: 24 });
  ln(g, 1043, 936, 1107, 936, 2);
  donors.forEach((d, k) => {
    const yy = 953 + k * 27;
    ln(g, 1035, yy, 1056, yy, 2);
    g.append("path").attr("d", d3.symbol(shapes[k], sizes[k] * 0.8)()).attr("transform", `translate(1045.5,${yy})`)
      .attr("fill", "#fff").attr("stroke", "#000").attr("stroke-width", 2);
    rt(g, 1067, yy + 9, d, { size: 24 });
  });
  rt(g, 1203, 866, "4146", { size: TITLE, anchor: "middle" });
  flowHist({
    x0: 1138, y0: 883, w: 135, h: 194, step: 38.5,
    traces: [{ pts: histF_NoStim, color: "#000" }, { pts: histF_AcuteAtm, color: "#000" },
             { pts: histF_Cont, color: "#e01010" }, { pts: histF_Acute, color: "#1414e6" }],
    title: [["CTV "], ["→", "a"]], titleX: 1138, titleY: 1128
  });
  rt(g, 1279, 958, "no stim", { size: 24, italic: true });
  rt(g, 1279, 998, "Acute", { size: 24 });
  ln(g, 1347, 980, 1347, 998, 2);
  rt(g, 1355, 998, [["Atm O"], ["2", "_"]], { size: 24 });
  rt(g, 1279, 1036, "Cont.", { size: 24 });
  rt(g, 1279, 1073, "Acute", { size: 24 });
  ln(g, 1348, 1023, 1348, 1072, 2);
  rt(g, 1357, 1040, "1.5%", { size: 24 }); rt(g, 1357, 1070, [["O"], ["2", "_"]], { size: 24 });
}
</script></body></html>
